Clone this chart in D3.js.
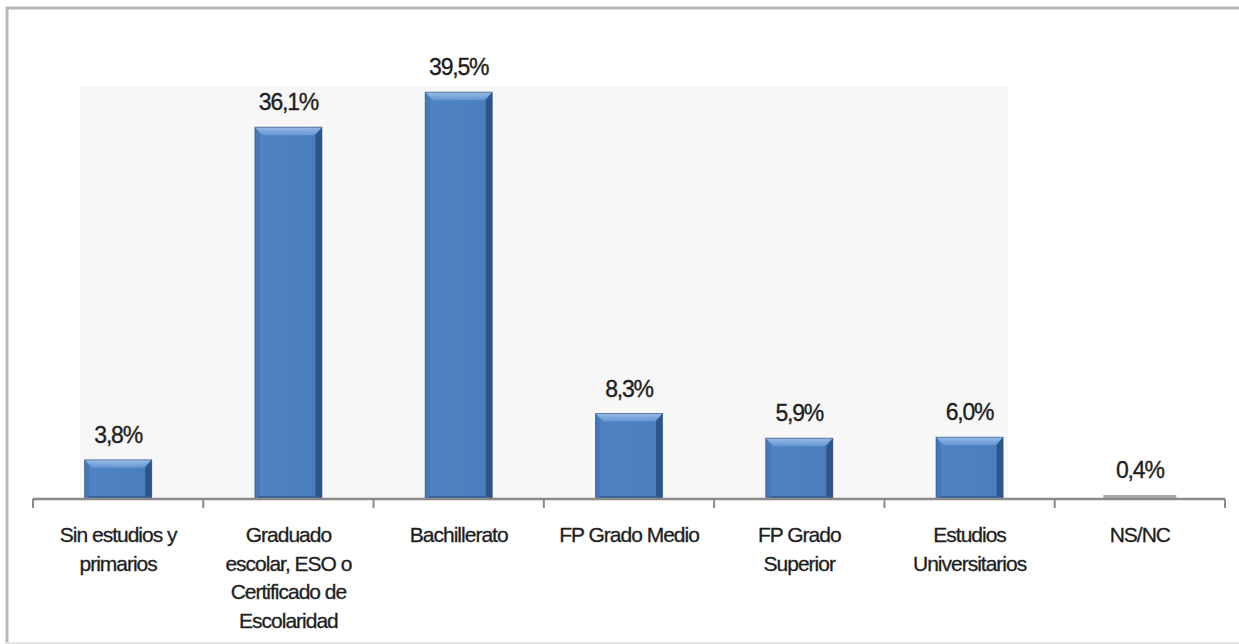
<!DOCTYPE html>
<html><head><meta charset="utf-8">
<script src="https://cdn.jsdelivr.net/npm/d3@7"></script>
<style>
html,body{margin:0;padding:0;background:#fff;}
svg{display:block;font-family:"Liberation Sans",Arial,sans-serif;}
</style></head>
<body>
<svg id="c" width="1239" height="644"></svg>
<script>
const categories = [
  ["Sin estudios y","primarios"],
  ["Graduado","escolar, ESO o","Certificado de","Escolaridad"],
  ["Bachillerato"],
  ["FP Grado Medio"],
  ["FP Grado","Superior"],
  ["Estudios","Universitarios"],
  ["NS/NC"]
];
const values = [3.8, 36.1, 39.5, 8.3, 5.9, 6.0, 0.4];
const valueLabels = ["3,8%","36,1%","39,5%","8,3%","5,9%","6,0%","0,4%"];

const svg = d3.select("#c");
const W = 1239, H = 644;
const x = d3.scaleBand().domain(d3.range(values.length)).range([33, 1225]).paddingInner(0).paddingOuter(0);
const y = d3.scaleLinear().domain([0, 40]).range([499, 87]);

// frame
svg.append("line").attr("x1",6).attr("x2",W).attr("y1",8).attr("y2",8).attr("stroke","#b8b8b8").attr("stroke-width",3);
svg.append("line").attr("x1",7).attr("x2",7).attr("y1",7).attr("y2",H).attr("stroke","#b8b8b8").attr("stroke-width",3);
svg.append("line").attr("x1",6).attr("x2",W).attr("y1",643).attr("y2",643).attr("stroke","#e4e4e4").attr("stroke-width",2);

// plot background
svg.append("rect").attr("x",80).attr("y",y(40)).attr("width",1008-80).attr("height",y(0)-y(40)).attr("fill","#f7f7f7");

const defs = svg.append("defs");
const g1 = defs.append("linearGradient").attr("id","body").attr("x1",0).attr("x2",1).attr("y1",0).attr("y2",0);
g1.append("stop").attr("offset","0%").attr("stop-color","#5083c4");
g1.append("stop").attr("offset","100%").attr("stop-color","#4b7dbc");
const gt = defs.append("linearGradient").attr("id","top").attr("x1",0).attr("x2",0).attr("y1",0).attr("y2",1);
gt.append("stop").attr("offset","0%").attr("stop-color","#9abce8");
gt.append("stop").attr("offset","100%").attr("stop-color","#6395d3");

const bw = 67;
const bars = svg.append("g");
values.forEach((v,i)=>{
  const cx = x(i) + x.bandwidth()/2;
  const x0 = cx - bw/2, x1 = cx + bw/2;
  const yt = y(v), yb = y(0);
  const h = yb - yt;
  const g = bars.append("g");
  if (h < 6) {
    g.append("rect").attr("x",x0-3).attr("y",yt).attr("width",bw+6).attr("height",h).attr("fill","#a9a9a9");
    return;
  }
  const e = Math.min(8, h/3);
  g.append("rect").attr("x",x0).attr("y",yt).attr("width",bw).attr("height",h).attr("fill","url(#body)");
  g.append("polygon").attr("points",[[x0,yt],[x1,yt],[x1-e,yt+e],[x0+e,yt+e]].join(" ")).attr("fill","url(#top)");
  g.append("polygon").attr("points",[[x0,yt],[x0+e*0.6,yt+e],[x0+e*0.6,yb],[x0,yb]].join(" ")).attr("fill","#4677b6");
  g.append("polygon").attr("points",[[x1,yt],[x1,yb],[x1-e*0.8,yb],[x1-e*0.8,yt+e]].join(" ")).attr("fill","#2c5588");
  g.append("polygon").attr("points",[[x0,yb],[x1,yb],[x1-e*0.8,yb-3],[x0+e*0.6,yb-3]].join(" ")).attr("fill","#33609a");
  g.append("rect").attr("x",x0).attr("y",yt).attr("width",bw).attr("height",h).attr("fill","none").attr("stroke","#2d4f7a").attr("stroke-width",1).attr("stroke-opacity",0.6);
});

// axis
svg.append("line").attr("x1",33).attr("x2",1225).attr("y1",499).attr("y2",499).attr("stroke","#8a8a8a").attr("stroke-width",2.5);
const ticks = d3.range(values.length+1).map(i => i < values.length ? x(i) : x(values.length-1)+x.bandwidth());
svg.selectAll(".tk").data(ticks).enter().append("line")
  .attr("x1",d=>d).attr("x2",d=>d).attr("y1",499).attr("y2",508)
  .attr("stroke","#8a8a8a").attr("stroke-width",2);

// value labels
svg.selectAll(".vl").data(values).enter().append("text")
  .attr("x",(d,i)=>x(i)+x.bandwidth()/2)
  .attr("y",d=>y(d)-17)
  .attr("text-anchor","middle")
  .attr("font-size",23).attr("letter-spacing",-1.2)
  .attr("fill","#1e1e1e").attr("stroke","#1e1e1e").attr("stroke-width",0.35)
  .text((d,i)=>valueLabels[i]);

// category labels
categories.forEach((lines,i)=>{
  const t = svg.append("text")
    .attr("x",x(i)+x.bandwidth()/2)
    .attr("y",542)
    .attr("text-anchor","middle")
    .attr("font-size",21).attr("letter-spacing",-1)
    .attr("fill","#1e1e1e").attr("stroke","#1e1e1e").attr("stroke-width",0.3);
  lines.forEach((l,j)=>{
    t.append("tspan").attr("x",x(i)+x.bandwidth()/2).attr("y",542 + j*28.5).text(l);
  });
});
</script>
</body></html>
